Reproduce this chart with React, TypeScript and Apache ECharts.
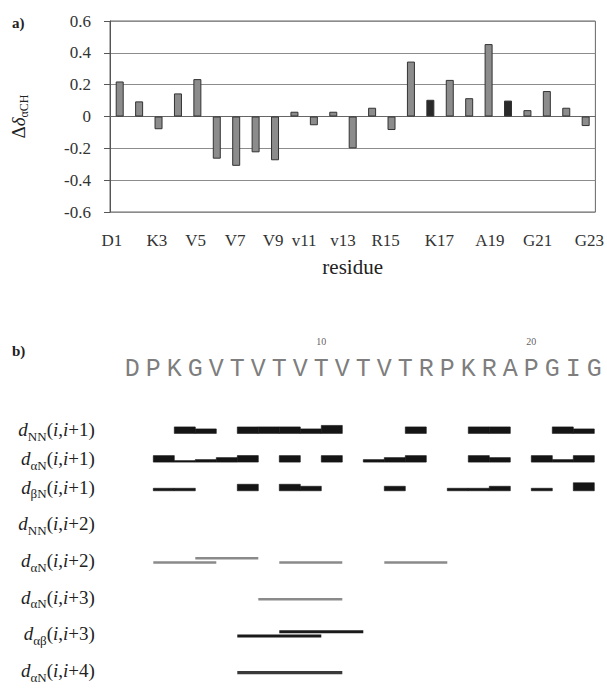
import React, { useEffect, useRef } from "react";
import * as echarts from "echarts";

// ---------- panel a data ----------
const BAR_IDS = ["1","2","3","4","5","6","7","8","9","10","11","12","13","14","15","16","17","18","19","20","21","22","23","24","25"];
const BAR_VALUES = [0.22, 0.095, -0.08, 0.145, 0.235, -0.265, -0.31, -0.225, -0.275, 0.03, -0.055, 0.03, -0.2, 0.055, -0.085, 0.345, 0.105, 0.23, 0.115, 0.455, 0.1, 0.04, 0.16, 0.055, -0.06];
const DARK_BARS = [17, 21];
const X_TICK_LABELS = ["D1", "K3", "V5", "V7", "V9", "v11", "v13", "R15", "K17", "A19", "G21", "G23"];
const X_TICK_POS = [0.6, 2.91, 4.91, 6.95, 8.9, 10.5, 12.5, 14.7, 17.46, 20.07, 22.53, 25.19];

// ---------- panel b data ----------
const SEQUENCE = ["D","P","K","G","V","T","V","T","V","T","V","T","V","T","R","P","K","R","A","P","G","I","G"];
const SEQ_NUMBERED = [10, 20];

const SHORT_ROW_SUBS = ["NN", "\u03b1N", "\u03b2N"];
const MEDIUM_ROW_SUBS = ["NN", "\u03b1N", "\u03b1N", "\u03b1\u03b2", "\u03b1N"];
const MEDIUM_ROW_SPANS = ["2", "2", "3", "3", "4"];

// sequential NOEs: [residue i, intensity]
const NN_I1: [number, string][] = [[3,"s"],[4,"m"],[6,"s"],[7,"s"],[8,"s"],[9,"m"],[10,"S"],[14,"s"],[17,"s"],[18,"s"],[21,"s"],[22,"m"]];
const AN_I1: [number, string][] = [[2,"s"],[3,"vw"],[4,"w"],[5,"m"],[6,"s"],[8,"s"],[10,"s"],[12,"w"],[13,"m"],[14,"s"],[17,"s"],[18,"m"],[20,"s"],[21,"w"],[22,"s"]];
const BN_I1: [number, string][] = [[2,"w"],[3,"w"],[6,"s"],[8,"s"],[9,"m"],[13,"m"],[16,"w"],[17,"w"],[18,"m"],[20,"w"],[22,"S"]];

// medium-range NOEs: [from, to]
const NN_I2: [number, number][] = [];
const AN_I2: [number, number][] = [[2,5],[4,7],[8,11],[13,16]];
const AN_I3: [number, number][] = [[7,11]];
const AB_I3: [number, number][] = [[6,10],[8,12]];
const AN_I4: [number, number][] = [[6,11]];

const SERIF = "'Liberation Serif', 'Times New Roman', serif";
const HEIGHTS: Record<string, number> = { S: 8, s: 6.5, m: 4.5, w: 2.5, vw: 1.5 };
const MED_STYLE = [
  { color: "#8a8a8a", w: 2.5 },
  { color: "#8a8a8a", w: 2.5 },
  { color: "#8a8a8a", w: 2.5 },
  { color: "#1a1a1a", w: 3 },
  { color: "#3a3a3a", w: 3.3 },
];

function rowLabel(sub: string, span: string) {
  return `{d|d}{s|${sub}}{t|(}{i|i}{t|,}{i|i}{t|+${span})}`;
}

const ROW_RICH = {
  d: { fontFamily: SERIF, fontSize: 19, fontStyle: "italic", lineHeight: 26, color: "#222" },
  s: { fontFamily: SERIF, fontSize: 13, lineHeight: 13, verticalAlign: "bottom", color: "#222" },
  t: { fontFamily: SERIF, fontSize: 19, lineHeight: 26, color: "#222" },
  i: { fontFamily: SERIF, fontSize: 19, fontStyle: "italic", lineHeight: 26, color: "#222" },
};

export default function App() {
  const ref = useRef<HTMLDivElement>(null);
  useEffect(() => {
    if (!ref.current) return;
    const chart = echarts.init(ref.current, undefined, { renderer: "svg" });

    const shortSegs = [
      ...NN_I1.map(([i, lv]) => ({ from: i, to: i + 1, row: 0, lv })),
      ...AN_I1.map(([i, lv]) => ({ from: i, to: i + 1, row: 1, lv })),
      ...BN_I1.map(([i, lv]) => ({ from: i, to: i + 1, row: 2, lv })),
    ];
    const medRows = [NN_I2, AN_I2, AN_I3, AB_I3, AN_I4];
    const medSegs: { from: number; to: number; row: number; lane: number }[] = [];
    medRows.forEach((segs, row) => {
      const placed: [number, number][] = [];
      segs.forEach(([a, b]) => {
        const overlap = placed.some(([pa, pb]) => a < pb && b > pa);
        medSegs.push({ from: a, to: b, row, lane: overlap ? 1 : 0 });
        placed.push([a, b]);
      });
    });

    const option: any = {
      animation: false,
      grid: [
        { left: 110, top: 21, width: 488, height: 191, show: true, borderColor: "#666", borderWidth: 1 },
        { left: 121.8, top: 341.5, width: 483, height: 27.5 },
        { left: 121.8, top: 415.6, width: 483, height: 86 },
        { left: 121.8, top: 505.6, width: 483, height: 194.5 },
      ],
      xAxis: [
        {
          type: "category", gridIndex: 0, data: BAR_IDS,
          axisLine: { show: true, onZero: true, lineStyle: { color: "#666", width: 1 } },
          axisTick: { show: false }, axisLabel: { show: false }, splitLine: { show: false },
        },
        {
          type: "value", gridIndex: 0, min: 0.5, max: 25.5, position: "bottom",
          axisLine: { show: false }, axisTick: { show: false }, splitLine: { show: false },
          axisLabel: {
            customValues: X_TICK_POS,
            margin: 20,
            fontFamily: SERIF, fontSize: 17, color: "#333",
            formatter: (v: number) => {
              const k = X_TICK_POS.findIndex((p) => Math.abs(p - v) < 1e-6);
              return k >= 0 ? X_TICK_LABELS[k] : "";
            },
          },
          name: "residue", nameLocation: "middle", nameGap: 44,
          nameTextStyle: { fontFamily: SERIF, fontSize: 21, color: "#222" },
        },
        { type: "value", gridIndex: 1, min: 0.5, max: 23.5, show: false },
        { type: "value", gridIndex: 2, min: 0.5, max: 23.5, show: false },
        { type: "value", gridIndex: 3, min: 0.5, max: 23.5, show: false },
      ],
      yAxis: [
        {
          type: "value", gridIndex: 0, min: -0.6, max: 0.6, interval: 0.2,
          axisLine: { show: true, lineStyle: { color: "#555" } },
          axisTick: { show: true, inside: false, length: 6, lineStyle: { color: "#555" } },
          splitLine: { show: true, lineStyle: { color: "#8c8c8c", width: 1 } },
          axisLabel: {
            margin: 19, fontFamily: SERIF, fontSize: 17, color: "#333",
            formatter: (v: number) => (Math.abs(v) < 1e-9 ? "0" : v.toFixed(1)),
          },
          name: "{a|\u0394}{b|\u03b4}{s|\u03b1CH}",
          nameLocation: "middle", nameRotate: 90, nameGap: 80,
          nameTextStyle: {
            rich: {
              a: { fontFamily: SERIF, fontSize: 19, lineHeight: 24, color: "#222" },
              b: { fontFamily: SERIF, fontSize: 19, fontStyle: "italic", lineHeight: 24, color: "#222" },
              s: { fontFamily: SERIF, fontSize: 12, lineHeight: 12, verticalAlign: "bottom", color: "#222" },
            },
          },
        },
        { type: "value", gridIndex: 1, min: 0, max: 1, show: false },
        {
          type: "category", gridIndex: 2, inverse: true,
          data: SHORT_ROW_SUBS.map((s) => rowLabel(s, "1")),
          axisLine: { show: false }, axisTick: { show: false }, splitLine: { show: false },
          axisLabel: { margin: 27, rich: ROW_RICH, formatter: (v: string) => v },
        },
        {
          type: "category", gridIndex: 3, inverse: true,
          data: MEDIUM_ROW_SUBS.map((s, k) => rowLabel(s, MEDIUM_ROW_SPANS[k])),
          axisLine: { show: false }, axisTick: { show: false }, splitLine: { show: false },
          axisLabel: { margin: 27, rich: ROW_RICH, formatter: (v: string) => v },
        },
      ],
      graphic: [
        { type: "text", left: 12, top: 15, style: { text: "a)", fontFamily: SERIF, fontSize: 15, fontWeight: "bold", fill: "#222" } },
        { type: "text", left: 12, top: 343, style: { text: "b)", fontFamily: SERIF, fontSize: 15, fontWeight: "bold", fill: "#222" } },
      ],
      series: [
        {
          type: "bar", xAxisIndex: 0, yAxisIndex: 0, data: BAR_VALUES, barWidth: 8,
          itemStyle: {
            color: (p: any) => (DARK_BARS.includes(p.dataIndex + 1) ? "#2a2a2a" : "#8c8c8c"),
            borderColor: "#333", borderWidth: 1,
          },
        },
        {
          type: "scatter", xAxisIndex: 2, yAxisIndex: 1, symbolSize: 1,
          itemStyle: { color: "rgba(0,0,0,0)" },
          data: SEQUENCE.map((c, i) => [i + 1, 0]),
          label: {
            show: true, position: "inside",
            formatter: (p: any) => SEQUENCE[p.dataIndex],
            fontFamily: "'Liberation Mono', 'Courier New', monospace", fontSize: 25, color: "#5a5a5a",
          },
        },
        {
          type: "scatter", xAxisIndex: 2, yAxisIndex: 1, symbolSize: 1,
          itemStyle: { color: "rgba(0,0,0,0)" },
          data: SEQ_NUMBERED.map((n) => [n, 1]),
          label: {
            show: true, position: "inside",
            formatter: (p: any) => String(SEQ_NUMBERED[p.dataIndex]),
            fontFamily: SERIF, fontSize: 10, color: "#333",
          },
        },
        {
          type: "custom", xAxisIndex: 3, yAxisIndex: 2,
          data: shortSegs.map((s) => [s.from, s.to, s.row]),
          encode: { x: [0, 1], y: 2 },
          renderItem: (params: any, api: any) => {
            const s = shortSegs[params.dataIndex];
            const a = api.coord([api.value(0), api.value(2)]);
            const b = api.coord([api.value(1), api.value(2)]);
            const h = HEIGHTS[s.lv];
            return {
              type: "rect",
              shape: { x: a[0], y: a[1] + 3.5 - h, width: b[0] - a[0], height: h },
              style: { fill: "#151515", stroke: "#151515", lineWidth: 0.6 },
            };
          },
        },
        {
          type: "custom", xAxisIndex: 4, yAxisIndex: 3,
          data: medSegs.map((s) => [s.from, s.to, s.row]),
          encode: { x: [0, 1], y: 2 },
          renderItem: (params: any, api: any) => {
            const s = medSegs[params.dataIndex];
            const a = api.coord([api.value(0), api.value(2)]);
            const b = api.coord([api.value(1), api.value(2)]);
            const st = MED_STYLE[s.row];
            const cy = a[1] + 2 - s.lane * 4.3;
            return {
              type: "rect",
              shape: { x: a[0], y: cy - st.w / 2, width: b[0] - a[0], height: st.w },
              style: { fill: st.color },
            };
          },
        },
      ],
    };
    chart.setOption(option);
    return () => chart.dispose();
  }, []);
  return (
    <div
      ref={ref}
      style={{ position: "absolute", left: 0, top: 0, width: 607, height: 689, background: "#fff" }}
    />
  );
}
